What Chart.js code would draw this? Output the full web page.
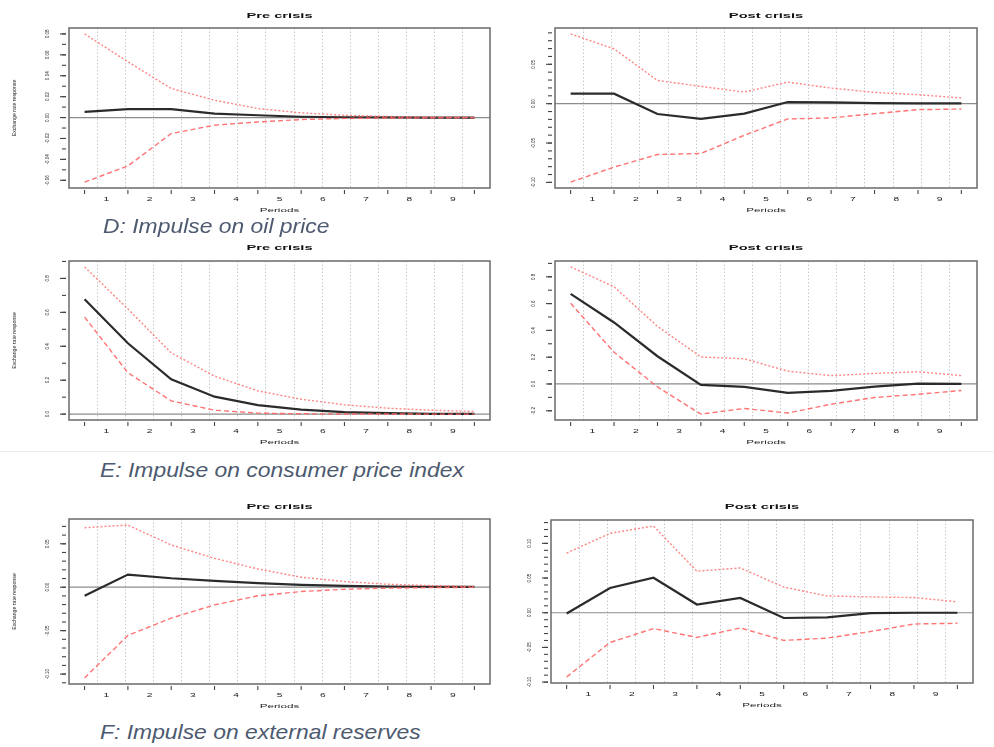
<!DOCTYPE html>
<html>
<head>
<meta charset="utf-8">
<script src="https://cdn.jsdelivr.net/npm/chart.js@4.4.0/dist/chart.umd.min.js"></script>
<style>
body{margin:0;background:#fff;width:994px;height:747px;position:relative;overflow:hidden;font-family:'Liberation Sans',Arial,sans-serif}
canvas{position:absolute}
.sub{position:absolute;font-style:italic;font-size:21px;line-height:1;color:#4d5a70;transform-origin:left top;transform:scaleX(1.09);white-space:nowrap}
.sep{position:absolute;height:1px;background:#ececec}
</style>
</head>
<body>
<canvas id="dPre" width="497" height="216" style="left:0;top:0"></canvas>
<canvas id="dPost" width="497" height="216" style="left:497px;top:0"></canvas>
<canvas id="ePre" width="497" height="212" style="left:0;top:236px"></canvas>
<canvas id="ePost" width="497" height="212" style="left:497px;top:236px"></canvas>
<canvas id="fPre" width="497" height="220" style="left:0;top:494px"></canvas>
<canvas id="fPost" width="497" height="220" style="left:497px;top:494px"></canvas>
<div class="sep" style="left:0;top:451px;width:994px"></div>
<div class="sub" style="left:103px;top:215px">D: Impulse on oil price</div>
<div class="sub" style="left:100px;top:459px">E: Impulse on consumer price index</div>
<div class="sub" style="left:100px;top:721px">F: Impulse on external reserves</div>
<script>
// forecast horizon and the labels printed between the ticks
const periods = [1, 2, 3, 4, 5, 6, 7, 8, 9, 10];
const periodLabels = ['1', '2', '3', '4', '5', '6', '7', '8', '9'];

// D: impulse on oil price
const oilPreIrf   = [0.0054, 0.0080, 0.0080, 0.0038, 0.0022, 0.0008, 0.0003, 0.0001, 0.0000, 0.0000];
const oilPreUpper = [0.0800, 0.0534, 0.0278, 0.0166, 0.0086, 0.0045, 0.0022, 0.0010, 0.0005, 0.0002];
const oilPreLower = [-0.0617, -0.0463, -0.0153, -0.0073, -0.0042, -0.0019, -0.0008, -0.0004, -0.0002, -0.0001];
const oilPreTicks = [-0.06, -0.04, -0.02, 0, 0.02, 0.04, 0.06, 0.08];

const oilPostIrf   = [0.0127, 0.0127, -0.0131, -0.0194, -0.0127, 0.0021, 0.0017, 0.0008, 0.0004, 0.0004];
const oilPostUpper = [0.0886, 0.0696, 0.0295, 0.0219, 0.0148, 0.0274, 0.0198, 0.0143, 0.0114, 0.0072];
const oilPostLower = [-0.0996, -0.0806, -0.0646, -0.0633, -0.0401, -0.0194, -0.0181, -0.0127, -0.0076, -0.0068];
const oilPostTicks = [-0.10, -0.05, 0, 0.05];

// E: impulse on consumer price index
const cpiPreIrf   = [0.677, 0.418, 0.205, 0.103, 0.053, 0.027, 0.012, 0.006, 0.002, 0.001];
const cpiPreUpper = [0.868, 0.620, 0.361, 0.224, 0.137, 0.088, 0.055, 0.035, 0.023, 0.016];
const cpiPreLower = [0.572, 0.244, 0.078, 0.023, 0.006, 0.002, 0.001, 0.0005, 0.0002, 0.0001];
const cpiPreTicks = [0, 0.2, 0.4, 0.6, 0.8];

const cpiPostIrf   = [0.672, 0.459, 0.207, -0.007, -0.022, -0.067, -0.052, -0.020, 0.002, 0.000];
const cpiPostUpper = [0.874, 0.726, 0.430, 0.202, 0.188, 0.096, 0.062, 0.079, 0.091, 0.062];
const cpiPostLower = [0.602, 0.237, -0.022, -0.225, -0.183, -0.217, -0.151, -0.101, -0.077, -0.049];
const cpiPostTicks = [-0.2, 0, 0.2, 0.4, 0.6, 0.8];

// F: impulse on external reserves
const resPreIrf   = [-0.0099, 0.0145, 0.0103, 0.0073, 0.0046, 0.0027, 0.0015, 0.0008, 0.0004, 0.0004];
const resPreUpper = [0.0685, 0.0715, 0.0486, 0.0333, 0.0210, 0.0115, 0.0065, 0.0034, 0.0019, 0.0008];
const resPreLower = [-0.1044, -0.0555, -0.0356, -0.0203, -0.0099, -0.0050, -0.0023, -0.0011, -0.0004, -0.0002];
const resPreTicks = [-0.10, -0.05, 0, 0.05];

const resPostIrf   = [-0.0010, 0.0356, 0.0504, 0.0119, 0.0214, -0.0076, -0.0067, -0.0005, 0.0000, 0.0000];
const resPostUpper = [0.0860, 0.1145, 0.1250, 0.0599, 0.0646, 0.0370, 0.0242, 0.0228, 0.0219, 0.0157];
const resPostLower = [-0.0926, -0.0428, -0.0228, -0.0356, -0.0219, -0.0399, -0.0366, -0.0271, -0.0162, -0.0152];
const resPostTicks = [-0.10, -0.05, 0, 0.05, 0.10];

// draw text squeezed/stretched like the rescaled R figure
function sText(ctx, s, x, y, font, sx, rot) {
  ctx.save();
  ctx.translate(x, y);
  if (rot) ctx.rotate(rot);
  ctx.scale(sx, 1);
  ctx.font = font;
  ctx.textAlign = 'center';
  ctx.textBaseline = 'middle';
  ctx.fillText(s, 0, 0);
  ctx.restore();
}

const irfDecor = {
  id: 'irfDecor',
  beforeDatasetsDraw(chart, args, o) {
    const ctx = chart.ctx, a = chart.chartArea, x = chart.scales.x, y = chart.scales.y;
    ctx.save();
    // dotted vertical grid
    ctx.strokeStyle = '#c8c8c8';
    ctx.lineWidth = 1;
    ctx.setLineDash([1.5, 2]);
    for (let k = 0; k < 14; k++) {
      const px = Math.round(x.getPixelForValue(1.29 + k * 0.6477)) + 0.5;
      ctx.beginPath();
      ctx.moveTo(px, a.top);
      ctx.lineTo(px, a.bottom);
      ctx.stroke();
    }
    // zero line
    ctx.setLineDash([]);
    ctx.strokeStyle = '#8c8c8c';
    ctx.lineWidth = 1.2;
    const zy = y.getPixelForValue(0);
    ctx.beginPath();
    ctx.moveTo(a.left, zy);
    ctx.lineTo(a.right, zy);
    ctx.stroke();
    ctx.restore();
  },
  afterDatasetsDraw(chart, args, o) {
    const ctx = chart.ctx, a = chart.chartArea, x = chart.scales.x, y = chart.scales.y;
    ctx.save();
    ctx.strokeStyle = '#6a6a6a';
    ctx.lineWidth = 1.5;
    ctx.strokeRect(a.left, a.top, a.right - a.left, a.bottom - a.top);

    // x ticks and labels
    ctx.strokeStyle = '#444';
    ctx.lineWidth = 1.1;
    ctx.fillStyle = '#222';
    periods.forEach(p => {
      const px = x.getPixelForValue(p);
      ctx.beginPath();
      ctx.moveTo(px, a.bottom + 2);
      ctx.lineTo(px, a.bottom + 6);
      ctx.stroke();
    });
    periodLabels.forEach((l, i) => {
      sText(ctx, l, x.getPixelForValue(periods[i] + 0.5), a.bottom + 11, '6px "Liberation Sans"', 1.7);
    });
    sText(ctx, 'Periods', (a.left + a.right) / 2, a.bottom + 22, '6px "Liberation Sans"', 1.95);

    // y ticks (minor every step, labelled ones longer)
    const st = o.minor;
    for (let v = Math.ceil(y.min / st - 1e-6) * st; v <= y.max + 1e-9; v += st) {
      const py = y.getPixelForValue(v);
      ctx.beginPath();
      ctx.moveTo(a.left - 3, py);
      ctx.lineTo(a.left - 7, py);
      ctx.stroke();
    }
    o.ticks.forEach(v => {
      const py = y.getPixelForValue(v);
      ctx.beginPath();
      ctx.moveTo(a.left - 3, py);
      ctx.lineTo(a.left - 9, py);
      ctx.stroke();
      sText(ctx, v.toFixed(o.dec), a.left - 22, py, '6px "Liberation Sans"', 0.75, -Math.PI / 2);
    });

    // titles
    ctx.fillStyle = '#111';
    sText(ctx, o.title, (a.left + a.right) / 2, a.top - o.titleGap, 'bold 7px "Liberation Sans"', 2.1);
    if (o.yTitle) {
      ctx.fillStyle = '#222';
      sText(ctx, 'Exchange rate response', a.left - 55, (a.top + a.bottom) / 2, '5.5px "Liberation Sans"', 0.95, -Math.PI / 2);
    }
    ctx.restore();
  }
};

function irfChart(id, cv, box, title, irf, upper, lower, ticks, minor, dec, yTitle, titleGap) {
  const all = irf.concat(upper, lower);
  const lo = Math.min(...all), hi = Math.max(...all);
  const pad = 0.04 * (hi - lo);
  const pts = vals => periods.map((p, i) => ({x: p, y: vals[i]}));
  new Chart(document.getElementById(id), {
    type: 'line',
    data: {
      datasets: [
        {data: pts(upper), borderColor: 'rgba(255,110,110,0.85)', borderWidth: 1.4, borderDash: [2, 2], pointRadius: 0, tension: 0},
        {data: pts(lower), borderColor: 'rgba(255,100,100,0.9)', borderWidth: 1.4, borderDash: [5, 3], pointRadius: 0, tension: 0},
        {data: pts(irf), borderColor: '#2b2b2b', borderWidth: 2.2, pointRadius: 0, tension: 0}
      ]
    },
    options: {
      responsive: false,
      animation: false,
      events: [],
      layout: {padding: {left: box[0] - cv[0], top: box[1] - cv[1], right: cv[0] + cv[2] - box[2], bottom: cv[1] + cv[3] - box[3]}},
      scales: {
        x: {type: 'linear', display: false, min: 0.64, max: 10.36},
        y: {type: 'linear', display: false, min: lo - pad, max: hi + pad}
      },
      plugins: {
        legend: {display: false},
        tooltip: {enabled: false},
        irfDecor: {title: title, ticks: ticks, minor: minor, dec: dec, yTitle: yTitle, titleGap: titleGap}
      }
    },
    plugins: [irfDecor]
  });
}

irfChart('dPre', [0, 0, 497, 216], [69, 28, 490, 188], 'Pre crisis', oilPreIrf, oilPreUpper, oilPreLower, oilPreTicks, 0.01, 2, true, 12);
irfChart('dPost', [497, 0, 497, 216], [555, 28, 977, 188], 'Post crisis', oilPostIrf, oilPostUpper, oilPostLower, oilPostTicks, 0.01, 2, false, 12);
irfChart('ePre', [0, 236, 497, 212], [69, 261, 490, 420], 'Pre crisis', cpiPreIrf, cpiPreUpper, cpiPreLower, cpiPreTicks, 0.1, 1, true, 13);
irfChart('ePost', [497, 236, 497, 212], [555, 261, 977, 420], 'Post crisis', cpiPostIrf, cpiPostUpper, cpiPostLower, cpiPostTicks, 0.1, 1, false, 13);
irfChart('fPre', [0, 494, 497, 220], [69, 519, 490, 684], 'Pre crisis', resPreIrf, resPreUpper, resPreLower, resPreTicks, 0.01, 2, true, 12);
irfChart('fPost', [497, 494, 497, 220], [551, 520, 973, 683], 'Post crisis', resPostIrf, resPostUpper, resPostLower, resPostTicks, 0.01, 2, false, 13);
</script>
</body>
</html>
